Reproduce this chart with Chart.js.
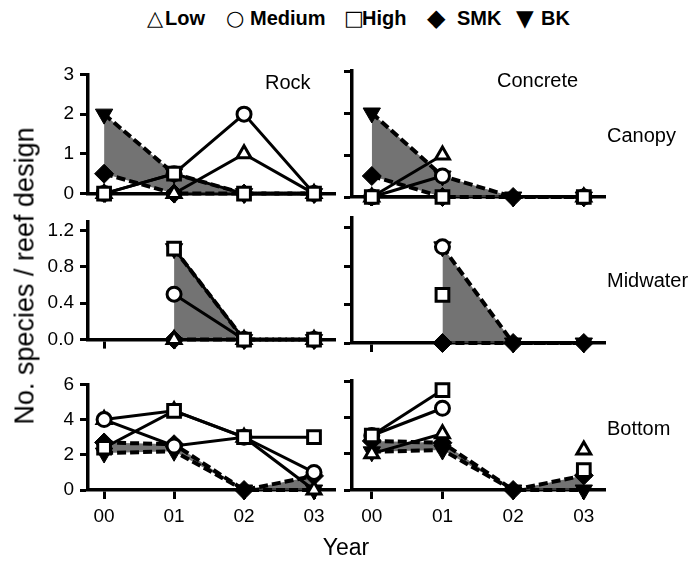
<!DOCTYPE html>
<html lang="en">
<head>
  <meta charset="UTF-8">
  <title>No. species / reef design</title>
  <style>
    body {
      margin: 0;
      background: #fff;
      font-family: "Liberation Sans", Arial, sans-serif;
      color: #000;
    }
    #fig {
      position: relative;
      width: 693px;
      height: 563px;
      overflow: hidden;
    }
    .panel { position: absolute; }
    .lbl {
      position: absolute;
      white-space: nowrap;
      font-size: 20px;
      line-height: 1;
      transform: translateY(-50%);
    }
    .glyph { font-family: "DejaVu Sans", sans-serif; font-weight: bold; }
    .legtext { font-weight: bold; }
  </style>
</head>
<body>
  <div id="fig"></div>

  <script src="https://cdn.jsdelivr.net/npm/chart.js"></script>
  <script>
    // --- data ---
    const years = ['00', '01', '02', '03'];
    const seriesNames = ['Low', 'Medium', 'High', 'SMK', 'BK'];

    const canopyTicks = [0, 1, 2, 3];
    const midTicks = [0, 0.4, 0.8, 1.2];
    const bottomTicks = [0, 2, 4, 6];

    // Canopy
    const rockCanopyLow = [0, 0, 1, 0];
    const rockCanopyMedium = [0, 0.5, 2, 0];
    const rockCanopyHigh = [0, 0.5, 0, 0];
    const concCanopyLow = [0, 1, null, 0];
    const concCanopyMedium = [0, 0.5, null, 0];
    const concCanopyHigh = [0, 0, null, 0];
    const canopySMK = [0.5, 0, 0, 0];
    const canopyBK = [2, 0.5, 0, 0];

    // Midwater
    const rockMidLow = [null, 0, 0, 0];
    const rockMidMedium = [null, 0.5, 0, 0];
    const rockMidHigh = [null, 1.0, 0, 0];
    const concMidLow = [null, null, null, null];
    const concMidMedium = [null, 1.0, null, null];
    const concMidHigh = [null, 0.5, null, null];
    const midSMK = [null, 0, 0, 0];
    const midBK = [null, 1.0, 0, 0];

    // Bottom
    const rockBotLow = [4, 4.5, 3, 0];
    const rockBotMedium = [4, 2.5, 3, 1];
    const rockBotHigh = [2.4, 4.5, 3, 3];
    const concBotLow = [2, 3.1, null, 2.2];
    const concBotMedium = [3, 4.5, null, null];
    const concBotHigh = [3, 5.5, null, 1.1];
    const botSMK = [2.7, 2.6, 0, 0.8];
    const botBK = [2.1, 2.2, 0, 0];

    // --- layout ---
    const FONT = '"Liberation Sans", Arial, sans-serif';
    const fig = document.getElementById('fig');

    const cols = [
      { name: 'Rock', left: 88, right: 335, xmin: -0.23, xmax: 3.3, showY: true },
      { name: 'Concrete', left: 352, right: 605, xmin: -0.28, xmax: 3.3, showY: false }
    ];
    const rows = [
      { top: 71, bottom: 197, max: 3, ticks: canopyTicks, fmt: v => String(v), showX: false,
        data: [
          [rockCanopyLow, rockCanopyMedium, rockCanopyHigh],
          [concCanopyLow, concCanopyMedium, concCanopyHigh]
        ], smk: canopySMK, bk: canopyBK },
      { top: 218, bottom: 343, max: 1.3, ticks: midTicks, fmt: v => v.toFixed(1), showX: false,
        data: [
          [rockMidLow, rockMidMedium, rockMidHigh],
          [concMidLow, concMidMedium, concMidHigh]
        ], smk: midSMK, bk: midBK },
      { top: 381, bottom: 490, max: 6, ticks: bottomTicks, fmt: v => String(v), showX: true,
        data: [
          [rockBotLow, rockBotMedium, rockBotHigh],
          [concBotLow, concBotMedium, concBotHigh]
        ], smk: botSMK, bk: botBK }
    ];

    const pts = vals => vals.map((v, i) => ({ x: i, y: v }));

    const base = { borderColor: '#000', pointBorderColor: '#000', tension: 0, clip: false, spanGaps: false };
    const styleLow = { ...base, borderWidth: 3, pointStyle: 'triangle', pointRadius: 8, pointBackgroundColor: '#fff', pointBorderWidth: 3 };
    const styleMed = { ...base, borderWidth: 3, pointStyle: 'circle', pointRadius: 7, pointBackgroundColor: '#fff', pointBorderWidth: 3 };
    const styleHigh = { ...base, borderWidth: 3, pointStyle: 'rect', pointRadius: 9, pointBackgroundColor: '#fff', pointBorderWidth: 3 };
    const styleSMK = { ...base, borderWidth: 4, borderDash: [9, 4], pointStyle: 'rectRot', pointRadius: 9.5, pointBackgroundColor: '#000', pointBorderWidth: 1, fill: false };
    const styleBK = { ...base, borderWidth: 4, borderDash: [9, 4], pointStyle: 'triangle', pointRotation: 180, pointRadius: 10, pointBackgroundColor: '#000', pointBorderWidth: 1, fill: '-1', backgroundColor: 'rgba(75,75,75,0.78)' };

    const PAD_TOP = 14, PAD_RIGHT = 22, Y_W = 50;

    rows.forEach(row => {
      cols.forEach((col, ci) => {
        const xh = row.showX ? 48 : 14;
        const plotW = col.right - col.left;
        const plotH = row.bottom - row.top;
        const w = Y_W + plotW + PAD_RIGHT;
        const h = PAD_TOP + plotH + xh;

        const wrap = document.createElement('div');
        wrap.className = 'panel';
        wrap.style.left = (col.left - Y_W) + 'px';
        wrap.style.top = (row.top - PAD_TOP) + 'px';
        wrap.style.width = w + 'px';
        wrap.style.height = h + 'px';
        const cv = document.createElement('canvas');
        wrap.appendChild(cv);
        fig.appendChild(wrap);

        const [low, med, high] = row.data[ci];
        const datasets = [
          { label: 'High', data: pts(high), ...styleHigh },
          { label: 'Medium', data: pts(med), ...styleMed },
          { label: 'Low', data: pts(low), ...styleLow },
          { label: 'SMK', data: pts(row.smk), ...styleSMK },
          { label: 'BK', data: pts(row.bk), ...styleBK }
        ];

        new Chart(cv, {
          type: 'line',
          data: { datasets },
          options: {
            responsive: true,
            maintainAspectRatio: false,
            animation: false,
            events: [],
            layout: { padding: { top: PAD_TOP, right: PAD_RIGHT, left: 0, bottom: 0 } },
            plugins: { legend: { display: false }, tooltip: { enabled: false } },
            scales: {
              x: {
                type: 'linear',
                min: col.xmin,
                max: col.xmax,
                afterBuildTicks: s => { s.ticks = years.map((_, i) => ({ value: i })); },
                afterFit: s => { s.height = xh; },
                grid: { drawOnChartArea: false, drawTicks: true, tickLength: 9, tickWidth: 3, color: '#000' },
                border: { display: true, color: '#000', width: 3.5 },
                ticks: {
                  display: row.showX,
                  padding: 6,
                  color: '#000',
                  font: { family: FONT, size: 19 },
                  maxRotation: 0,
                  callback: v => years[v]
                }
              },
              y: {
                min: 0,
                max: row.max,
                afterBuildTicks: s => { s.ticks = row.ticks.map(v => ({ value: v })); },
                afterFit: s => { s.width = Y_W; },
                grid: { drawOnChartArea: false, drawTicks: true, tickLength: 8, tickWidth: 3, color: '#000' },
                border: { display: true, color: '#000', width: 3.5 },
                ticks: {
                  display: col.showY,
                  padding: 6,
                  color: '#000',
                  font: { family: FONT, size: 19 },
                  callback: v => row.fmt(v)
                }
              }
            }
          }
        });
      });
    });

    // --- text ---
    function label(text, x, y, size, extra) {
      const d = document.createElement('div');
      d.className = 'lbl';
      d.textContent = text;
      d.style.left = x + 'px';
      d.style.top = y + 'px';
      if (size) d.style.fontSize = size + 'px';
      if (extra) Object.assign(d.style, extra);
      fig.appendChild(d);
      return d;
    }

    label('Rock', 265, 82, 20);
    label('Concrete', 497, 80, 20);
    label('Canopy', 607, 135, 20);
    label('Midwater', 607, 280, 20);
    label('Bottom', 607, 428, 20);

    label('No. species / reef design', 25, 276, 27, { transform: 'translate(-50%, -50%) rotate(-90deg)' });
    label('Year', 346, 547, 23, { transform: 'translate(-50%, -50%)' });

    // legend
    const legendGlyphs = ['\u25B3', '\u25CB', '\u25A1', '\u25C6', '\u25BC'];
    const glyphX = [147, 226, 344, 427, 516];
    const glyphSize = [21, 21, 21, 24, 23];
    const textX = [165, 250, 362, 457, 541];
    seriesNames.forEach((n, i) => {
      const g = label(legendGlyphs[i], glyphX[i], 18, glyphSize[i]);
      g.classList.add('glyph');
      const t = label(n, textX[i], 18, 20);
      t.classList.add('legtext');
    });
  </script>
</body>
</html>
